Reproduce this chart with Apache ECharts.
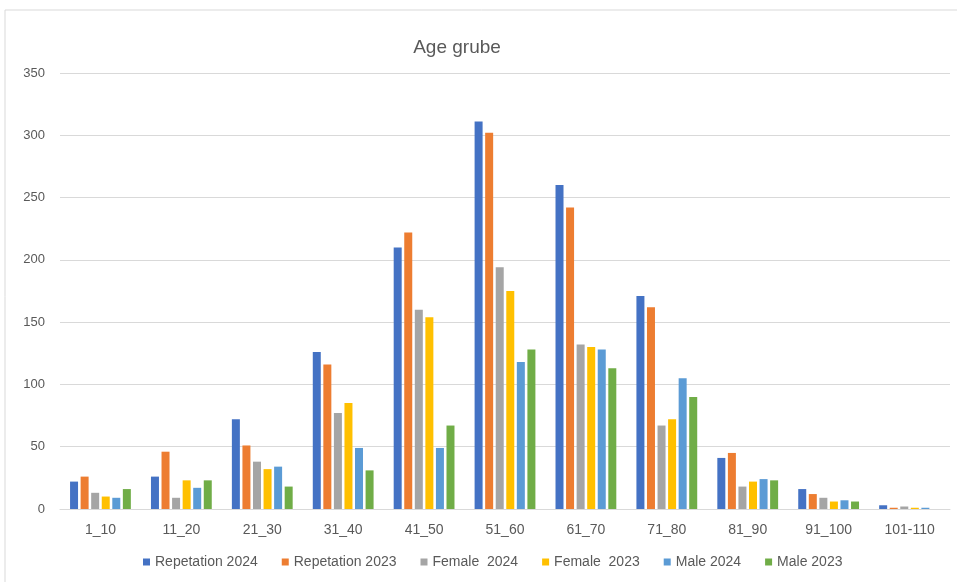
<!DOCTYPE html>
<html>
<head>
<meta charset="UTF-8">
<title>Age grube</title>
<script src="https://cdn.jsdelivr.net/npm/echarts@6/dist/echarts.min.js"></script>
<style>
  html, body { margin: 0; padding: 0; background: #fff; }
  #main { width: 957px; height: 582px; }
</style>
</head>
<body>
<div id="main"></div>
<script>
var categories = ['1_10', '11_20', '21_30', '31_40', '41_50', '51_60', '61_70', '71_80', '81_90', '91_100', '101-110'];
var rep2024 = [22, 26, 72, 126, 210, 311, 260, 171, 41, 16, 3];
var rep2023 = [26, 46, 51, 116, 222, 302, 242, 162, 45, 12, 1];
var female2024 = [13, 9, 38, 77, 160, 194, 132, 67, 18, 9, 2];
var female2023 = [10, 23, 32, 85, 154, 175, 130, 72, 22, 6, 1];
var male2024 = [9, 17, 34, 49, 49, 118, 128, 105, 24, 7, 1];
var male2023 = [16, 23, 18, 31, 67, 128, 113, 90, 23, 6, 0];

var names = ['Repetation 2024', 'Repetation 2023', 'Female  2024', 'Female  2023', 'Male 2024', 'Male 2023'];
var colors = ['#4472C4', '#ED7D31', '#A5A5A5', '#FFC000', '#5B9BD5', '#70AD47'];
var values = [rep2024, rep2023, female2024, female2023, male2024, male2023];

var font = 'Liberation Sans, sans-serif';
var chart = echarts.init(document.getElementById('main'));

var series = values.map(function (v, i) {
    return {
        name: names[i],
        type: 'bar',
        data: v,
        barWidth: 8,
        barGap: '32%',
        itemStyle: { color: colors[i] }
    };
});

chart.setOption({
    animation: false,
    color: colors,
    title: {
        text: 'Age grube',
        left: 452,
        textAlign: 'center',
        top: 33,
        textStyle: { fontFamily: font, fontSize: 19, fontWeight: 'normal', color: '#595959' }
    },
    graphic: [{
        type: 'rect',
        shape: { x: 5, y: 10, width: 960, height: 580 },
        style: { fill: 'none', stroke: '#d9d9d9', lineWidth: 1 },
        silent: true
    }],
    legend: {
        bottom: 8,
        left: 138,
        itemWidth: 7,
        itemHeight: 7,
        itemGap: 24,
        icon: 'rect',
        textStyle: { fontFamily: font, fontSize: 14, color: '#595959' },
        data: names
    },
    grid: { left: 60, right: 7, top: 73, bottom: 73, containLabel: false },
    xAxis: {
        type: 'category',
        data: categories,
        axisLine: { lineStyle: { color: '#d9d9d9' } },
        axisTick: { show: false },
        axisLabel: { fontFamily: font, fontSize: 14, color: '#595959', margin: 14 }
    },
    yAxis: {
        type: 'value',
        min: 0,
        max: 350,
        interval: 50,
        axisLine: { show: false },
        axisTick: { show: false },
        splitLine: { lineStyle: { color: '#d9d9d9' } },
        axisLabel: { fontFamily: font, fontSize: 13, color: '#595959', margin: 15 }
    },
    series: series
});
</script>
</body>
</html>
